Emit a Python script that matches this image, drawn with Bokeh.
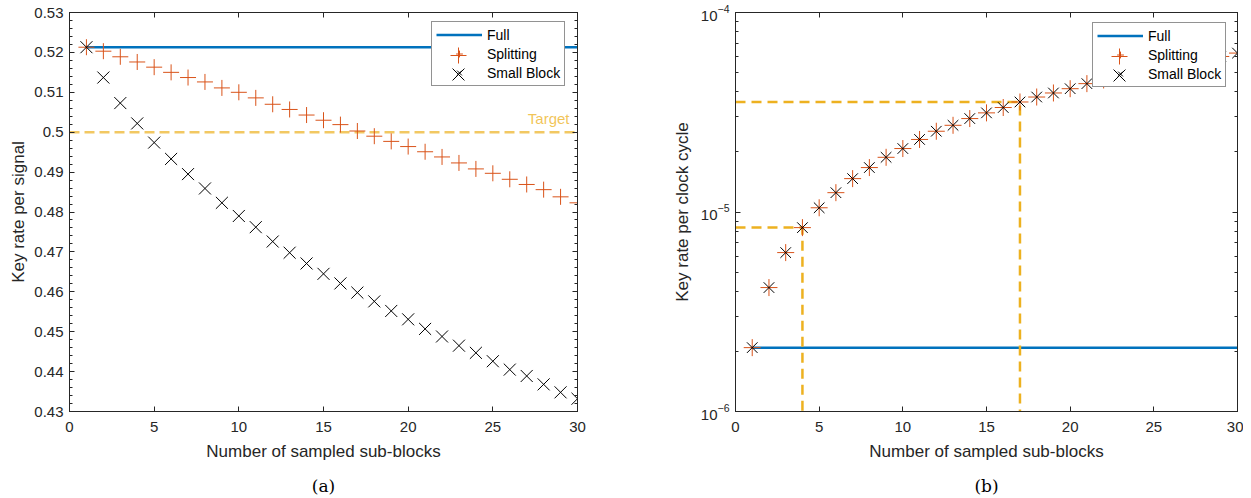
from bokeh.plotting import figure
from bokeh.models import (Range1d, LinearAxis, LogAxis, SingleIntervalTicker, FixedTicker,
                          Legend, LegendItem, Label, CustomJSTickFormatter)
from bokeh.layouts import row
from bokeh.embed import file_html
from bokeh.resources import INLINE

# ---------------- data ----------------
n_blocks = list(range(1, 31))

full_signal = 0.5213
target_signal = 0.5
splitting_signal = [0.5213, 0.5203, 0.5189, 0.5176, 0.5163, 0.5150, 0.5137, 0.5126, 0.5111, 0.5100,
                    0.5086, 0.5070, 0.5057, 0.5043, 0.5030, 0.5019, 0.5003, 0.4990, 0.4977, 0.4964,
                    0.4951, 0.4938, 0.4923, 0.4908, 0.4897, 0.4882, 0.4869, 0.4856, 0.4838, 0.4823]
small_block_signal = [0.5213, 0.5137, 0.5073, 0.5022, 0.4974, 0.4933, 0.4895, 0.4859, 0.4823, 0.4790,
                      0.4762, 0.4726, 0.4698, 0.4671, 0.4645, 0.4621, 0.4598, 0.4576, 0.4552, 0.4531,
                      0.4507, 0.4488, 0.4465, 0.4447, 0.4426, 0.4405, 0.4389, 0.4368, 0.4348, 0.4332]

full_clock = 2.09e-6
splitting_clock = [2.09e-6, 4.18e-6, 6.26e-6, 8.35e-6, 1.05e-5, 1.25e-5, 1.47e-5, 1.67e-5, 1.88e-5, 2.08e-5,
                   2.31e-5, 2.54e-5, 2.72e-5, 2.94e-5, 3.14e-5, 3.34e-5, 3.56e-5, 3.77e-5, 3.95e-5, 4.15e-5,
                   4.40e-5, 4.59e-5, 4.80e-5, 5.01e-5, 5.22e-5, 5.42e-5, 5.63e-5, 5.83e-5, 6.02e-5, 6.26e-5]
small_block_clock = [2.09e-6, 4.18e-6, 6.26e-6, 8.35e-6, 1.05e-5, 1.25e-5, 1.47e-5, 1.67e-5, 1.88e-5, 2.08e-5,
                     2.31e-5, 2.54e-5, 2.72e-5, 2.94e-5, 3.14e-5, 3.34e-5, 3.56e-5, 3.77e-5, 3.95e-5, 4.15e-5,
                     4.40e-5, 4.59e-5, 4.80e-5, 5.01e-5, 5.22e-5, 5.42e-5, 5.63e-5, 5.83e-5, 6.02e-5, 6.26e-5]
highlight_blocks = [4, 17]

x_ticks = [0, 5, 10, 15, 20, 25, 30]
y_ticks_clock = [1e-6, 1e-5, 1e-4]
legend_labels = ["Full", "Splitting", "Small Block"]
captions = ["(a)", "(b)"]

# ---------------- style ----------------
BLUE = "#0072BD"
ORANGE = "#D95319"
YELLOW = "#EDB120"
INK = "#262626"
FONT = "Liberation Sans"

FRAME_H = 399
H = 498
TOP = 12
BOTTOM = H - TOP - FRAME_H

LG_PAD = 4
LG_ITEM = 17
LG_SPACE = 2
LG_GLYPH_W = 46


def style_axis(ax):
    ax.axis_line_color = INK
    ax.axis_line_width = 1
    ax.major_tick_line_color = INK
    ax.minor_tick_line_color = INK
    ax.major_tick_in = 5
    ax.major_tick_out = 0
    ax.minor_tick_in = 3
    ax.minor_tick_out = 0
    ax.major_label_text_font = FONT
    ax.major_label_text_font_size = "15px"
    ax.major_label_text_color = INK
    ax.axis_label_text_font = FONT
    ax.axis_label_text_font_size = "17px"
    ax.axis_label_text_font_style = "normal"
    ax.axis_label_text_color = INK


def blank_axis(ax):
    ax.formatter = CustomJSTickFormatter(code="return ''")
    ax.major_label_standoff = 0
    ax.axis_label = None


def make_legend(p, renderers, lx, ly):
    lg = Legend(items=[LegendItem(label=lab, renderers=[r]) for lab, r in zip(legend_labels, renderers)],
                location=(lx, ly))
    lg.margin = 0
    lg.padding = LG_PAD
    lg.spacing = LG_SPACE
    lg.glyph_width = LG_GLYPH_W
    lg.glyph_height = LG_ITEM
    lg.label_height = LG_ITEM
    lg.label_standoff = 5
    lg.label_text_font = FONT
    lg.label_text_font_size = "14px"
    lg.label_text_color = "#000000"
    lg.border_line_color = INK
    lg.border_line_width = 1
    lg.background_fill_color = "white"
    lg.background_fill_alpha = 1.0
    p.add_layout(lg)
    # full-size marker overlays for the two marker entries
    cx = lx + LG_PAD + LG_GLYPH_W / 2
    n = len(renderers)
    for i, (r, g) in enumerate(zip(renderers[1:], [40, 42]), start=1):
        cy = ly + LG_PAD + (n - 1 - i) * (LG_ITEM + LG_SPACE) + LG_ITEM / 2
        ov = Legend(items=[LegendItem(label=" ", renderers=[r])], location=(cx - g / 2, cy - g / 2))
        ov.margin = 0
        ov.padding = 0
        ov.spacing = 0
        ov.glyph_width = g
        ov.glyph_height = g
        ov.label_width = 0
        ov.label_height = 0
        ov.label_standoff = 0
        ov.label_text_font_size = "1px"
        ov.border_line_color = None
        ov.background_fill_alpha = 0
        p.add_layout(ov)


def base_figure(width, left, right, y_type):
    p = figure(width=width, height=H, output_backend="svg", toolbar_location=None,
               x_range=Range1d(0, 30), y_axis_type=y_type,
               min_border_left=left, min_border_right=right,
               min_border_top=TOP, min_border_bottom=BOTTOM)
    p.xgrid.visible = False
    p.ygrid.visible = False
    p.outline_line_color = INK
    p.background_fill_color = "white"
    p.border_fill_color = "white"
    return p


def caption(p, text):
    ax = LinearAxis(ticker=FixedTicker(ticks=[]), axis_label=text)
    ax.axis_line_color = None
    ax.major_tick_line_color = None
    ax.minor_tick_line_color = None
    ax.major_tick_in = 0
    ax.major_tick_out = 0
    ax.minor_tick_out = 0
    ax.major_label_standoff = 0
    ax.major_label_text_font_size = "1px"
    ax.axis_label_standoff = 12
    ax.axis_label_text_font = "DejaVu Serif"
    ax.axis_label_text_font_size = "17px"
    ax.axis_label_text_font_style = "normal"
    ax.axis_label_text_color = "black"
    p.add_layout(ax, "below")


# ---------------- panel (a) ----------------
p1 = base_figure(640, 69, 63, "linear")
p1.y_range = Range1d(0.43, 0.53)
bottom1 = p1.below[0]
left1 = p1.left[0]

r_full1 = p1.line([n_blocks[0], n_blocks[-1]], [full_signal, full_signal], color=BLUE, line_width=2.5)
p1.line([p1.x_range.start, p1.x_range.end], [target_signal, target_signal], color=YELLOW,
        line_alpha=0.7, line_width=2.5, line_dash="10 5")
r_split1 = p1.scatter(n_blocks, splitting_signal, marker="cross", size=16,
                      line_color=ORANGE, line_width=1)
r_small1 = p1.scatter(n_blocks, small_block_signal, marker="x", size=17,
                      line_color="black", line_width=1)
p1.add_layout(Label(x=p1.x_range.end, y=target_signal, x_offset=-8, y_offset=14, text="Target",
                    text_align="right", text_baseline="alphabetic", text_color=YELLOW,
                    text_alpha=0.75, text_font=FONT, text_font_size="15px"))

bottom1.ticker = FixedTicker(ticks=x_ticks)
bottom1.axis_label = "Number of sampled sub-blocks"
left1.ticker = SingleIntervalTicker(interval=0.01, num_minor_ticks=5)
left1.formatter = CustomJSTickFormatter(code="return (Math.round(tick*100)/100).toString()")
left1.axis_label = "Key rate per signal"
top1 = LinearAxis(ticker=FixedTicker(ticks=x_ticks))
right1 = LinearAxis(ticker=SingleIntervalTicker(interval=0.01, num_minor_ticks=5))
p1.add_layout(top1, "above")
p1.add_layout(right1, "right")
for ax in [bottom1, left1, top1, right1]:
    style_axis(ax)
for ax in [top1, right1]:
    blank_axis(ax)
top1.minor_tick_line_color = None
bottom1.minor_tick_line_color = None
bottom1.major_label_standoff = 10
bottom1.axis_label_standoff = 7
left1.major_label_standoff = 6
left1.axis_label_standoff = 3
make_legend(p1, [r_full1, r_split1, r_small1], 362, 325)
caption(p1, captions[0])

# ---------------- panel (b) ----------------
p2 = base_figure(603, 95, 6, "log")
p2.y_range = Range1d(1e-6, 1e-4)
bottom2 = p2.below[0]
left2 = p2.left[0]

r_full2 = p2.line([n_blocks[0], n_blocks[-1]], [full_clock, full_clock], color=BLUE, line_width=2.5)
for hb in highlight_blocks:
    v = splitting_clock[n_blocks.index(hb)]
    p2.line([p2.x_range.start, hb, hb], [v, v, p2.y_range.start], color=YELLOW, line_width=2.5,
            line_dash="10 6")
r_split2 = p2.scatter(n_blocks, splitting_clock, marker="cross", size=17,
                      line_color=ORANGE, line_width=1)
r_small2 = p2.scatter(n_blocks, small_block_clock, marker="x", size=15,
                      line_color="black", line_width=1)

minor_log = [m * 10.0 ** e for e in (-6, -5) for m in range(2, 10)]
bottom2.ticker = FixedTicker(ticks=x_ticks)
bottom2.axis_label = "Number of sampled sub-blocks"
left2.ticker = FixedTicker(ticks=y_ticks_clock, minor_ticks=minor_log)
left2.axis_label = "Key rate per clock cycle"
top2 = LinearAxis(ticker=FixedTicker(ticks=x_ticks))
right2 = LogAxis(ticker=FixedTicker(ticks=y_ticks_clock, minor_ticks=minor_log))
p2.add_layout(top2, "above")
p2.add_layout(right2, "right")
for ax in [bottom2, left2, top2, right2]:
    style_axis(ax)
for ax in [top2, right2]:
    blank_axis(ax)
top2.minor_tick_line_color = None
bottom2.minor_tick_line_color = None
bottom2.major_label_standoff = 10
bottom2.axis_label_standoff = 7
left2.major_label_standoff = 6
left2.axis_label_standoff = 6
make_legend(p2, [r_full2, r_split2, r_small2], 357, 324)
caption(p2, captions[1])

layout = row(p1, p2)
open("out.html", "w").write(file_html(layout, INLINE))
